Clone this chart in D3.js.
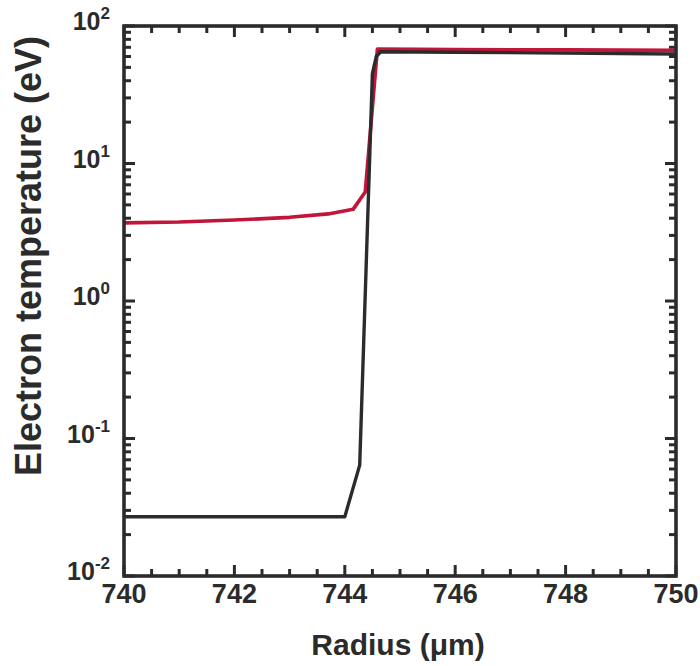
<!DOCTYPE html>
<html><head><meta charset="utf-8">
<script src="https://cdn.jsdelivr.net/npm/d3@7"></script>
<style>body{margin:0;background:#fff}svg{display:block}text{font-family:"Liberation Sans",Arial,sans-serif;font-weight:bold;fill:#2b2b2b}</style>
</head><body>
<svg id="c" width="700" height="666"></svg>
<script>
const redRadius = [740, 741, 742, 743, 743.7, 744.15, 744.37, 744.59, 746, 748, 750];
const redTemp   = [3.70, 3.75, 3.88, 4.06, 4.3, 4.64, 6.2, 68, 67.5, 67, 66.5];
const blackRadius = [740, 744.0, 744.27, 744.5, 744.57, 744.65, 746, 748, 750];
const blackTemp   = [0.027, 0.027, 0.064, 45, 60, 65, 64.5, 63.5, 62.5];
const xTicks = [740, 742, 744, 746, 748, 750];
const yExps = [-2, -1, 0, 1, 2];

const svg = d3.select("#c");
const L = 124, R = 676, T = 26, B = 576;
const x = d3.scaleLinear().domain([740, 750]).range([L, R]);
const y = d3.scaleLog().domain([0.01, 100]).range([B, T]);
const ink = "#2b2b2b";

const xMinor = d3.range(740, 750.01, 0.5).filter(v => v % 2 !== 0);
const yMinor = [];
for (let e = -2; e < 2; e++) for (let m = 2; m <= 9; m++) yMinor.push(m * Math.pow(10, e));

const g = svg.append("g");
function tickLines(vals, len, orient) {
  vals.forEach(v => {
    if (orient === "b") g.append("line").attr("x1", x(v)).attr("x2", x(v)).attr("y1", B).attr("y2", B - len);
    if (orient === "t") g.append("line").attr("x1", x(v)).attr("x2", x(v)).attr("y1", T).attr("y2", T + len);
    if (orient === "l") g.append("line").attr("y1", y(v)).attr("y2", y(v)).attr("x1", L).attr("x2", L + len);
    if (orient === "r") g.append("line").attr("y1", y(v)).attr("y2", y(v)).attr("x1", R).attr("x2", R - len);
  });
}
tickLines(xTicks, 11, "b"); tickLines(xTicks, 11, "t");
tickLines(xMinor, 7, "b"); tickLines(xMinor, 7, "t");
const yMajor = yExps.map(e => Math.pow(10, e));
tickLines(yMajor, 11, "l"); tickLines(yMajor, 11, "r");
tickLines(yMinor, 7, "l"); tickLines(yMinor, 7, "r");
g.selectAll("line").attr("stroke", ink).attr("stroke-width", 3);

const line = d3.line().x(d => x(d[0])).y(d => y(d[1]));
svg.append("path").datum(redRadius.map((r, i) => [r, redTemp[i]]))
  .attr("d", line).attr("fill", "none").attr("stroke", "#c0163a").attr("stroke-width", 3.6).attr("stroke-linejoin", "round");
svg.append("path").datum(blackRadius.map((r, i) => [r, blackTemp[i]]))
  .attr("d", line).attr("fill", "none").attr("stroke", ink).attr("stroke-width", 3.4).attr("stroke-linejoin", "round");

svg.append("rect").attr("x", L).attr("y", T).attr("width", R - L).attr("height", B - T)
  .attr("fill", "none").attr("stroke", ink).attr("stroke-width", 3.6);

xTicks.forEach(v => {
  svg.append("text").attr("x", x(v)).attr("y", 603).attr("text-anchor", "middle")
    .attr("font-size", 27).text(v);
});
yExps.forEach(e => {
  const t = svg.append("text").attr("x", 110).attr("y", y(Math.pow(10, e)) + 4)
    .attr("text-anchor", "end").attr("font-size", 25);
  t.append("tspan").text("10");
  t.append("tspan").attr("font-size", 17).attr("dy", -11).text(String(e));
});

svg.append("text").attr("x", 398).attr("y", 655).attr("text-anchor", "middle")
  .attr("font-size", 30).text("Radius (μm)");
svg.append("text").attr("transform", "translate(41,256) rotate(-90)")
  .attr("text-anchor", "middle").attr("font-size", 36).text("Electron temperature (eV)");
</script>
</body></html>
